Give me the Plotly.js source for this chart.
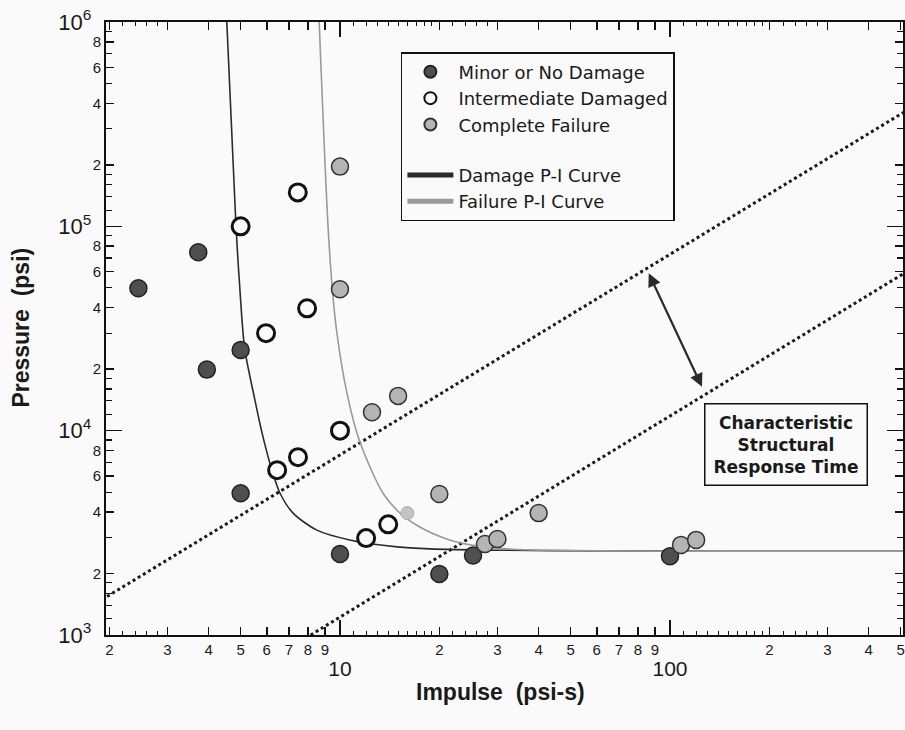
<!DOCTYPE html>
<html>
<head>
<meta charset="utf-8">
<script src="https://cdn.plot.ly/plotly-3.0.1.min.js"></script>
<style>
  html, body { margin: 0; padding: 0; background: #fafafa; }
  #chart { width: 905px; height: 730px; }
</style>
</head>
<body>
<div id="chart"></div>
<script>
// ---------------- data ----------------
const minorI = [2.45, 3.72, 3.95, 5, 5, 10, 20, 25.3, 100];
const minorP = [49800, 74700, 19900, 24800, 4940, 2490, 1990, 2450, 2430];

const interI = [5, 7.45, 7.95, 5.97, 10, 6.45, 7.46, 12, 14];
const interP = [100000, 146600, 39700, 30000, 10000, 6410, 7420, 2980, 3480];

const failI = [10, 10, 12.5, 15, 20, 40, 27.5, 30, 108, 120];
const failP = [196000, 49200, 12300, 14800, 4900, 3950, 2790, 2950, 2760, 2920];

const failFaintI = [16];
const failFaintP = [3950];

const damageCurveI = [4.54, 4.84, 5.04, 5.15, 5.52, 5.81, 6.22, 6.58, 7.21, 8.51, 10.7, 14.9, 18.7, 30, 60, 150, 520];
const damageCurveP = [1000000, 100000, 35900, 24800, 14200, 9700, 6400, 4940, 3950, 3260, 2920, 2700, 2640, 2600, 2580, 2570, 2570];

const failCurveI = [8.65, 9.20, 9.54, 9.79, 10.35, 11.26, 12.33, 13.5, 15.2, 17.5, 21.5, 25.3, 33.4, 61, 150, 520];
const failCurveP = [1000000, 100000, 43800, 30000, 17100, 9720, 6640, 4940, 3950, 3370, 2920, 2750, 2630, 2580, 2570, 2570];

const respLine1I = [1.9, 520];
const respLine1P = [1490, 368000];
const respLine2I = [8.15, 520];
const respLine2P = [1000, 59800];

const arrowI = [85.8, 125];
const arrowP = [59900, 16400];

const xDigits = [2, 3, 4, 5, 6, 7, 8, 9];
const xDecades = [1, 10, 100];
const xMajorVals = [10, 100];
const xMajorText = ['10', '100'];
const xMinorFrac = [1.1, 1.2, 1.3, 1.4, 1.5, 1.6, 1.7, 1.8, 1.9, 2.2, 2.4, 2.6, 2.8];

const yLabelDigits = [2, 4, 6, 8];
const yMinorDigits = [1.2, 1.4, 1.6, 1.8, 3, 5, 7, 9];
const yDecades = [1000, 10000, 100000];
const yMajorVals = [1000, 10000, 100000, 1000000];
const yMajorText = ['10<sup>3</sup>', '10<sup>4</sup>', '10<sup>5</sup>', '10<sup>6</sup>'];

const legendNames = ['Minor or No Damage', 'Intermediate Damaged', 'Complete Failure', 'Damage P-I Curve', 'Failure P-I Curve'];
const boxText = 'Characteristic<br>Structural<br>Response Time';
const xTitle = 'Impulse  (psi-s)';
const yTitle = 'Pressure  (psi)';

// ---------------- tick arrays ----------------
const xTickVals = [], xTickText = [];
xDecades.forEach(d => xDigits.forEach(k => {
  const v = d * k; if (v >= 2 && v <= 500) { xTickVals.push(v); xTickText.push(String(k)); }
}));
const xMinorVals = [];
xDecades.forEach(d => xMinorFrac.forEach(f => { const v = d * f; if (v > 2 && v < 500) xMinorVals.push(v); }));

const yTickVals = [], yTickText = [];
yDecades.forEach(d => yLabelDigits.forEach(k => { yTickVals.push(d * k); yTickText.push(String(k)); }));
const yMinorVals = [];
yDecades.forEach(d => yMinorDigits.forEach(f => yMinorVals.push(d * f)));
const yMajorTextPadded = yMajorText.map(t => t + '\u00A0\u00A0');

const XR = [0.291, 2.706];
const YR = [3, 6];
const FONT = 'Liberation Sans, Arial, sans-serif';

const traces = [
  { x: respLine1I, y: respLine1P, mode: 'lines', line: { color: '#1a1a1a', width: 3, dash: 'dot' }, showlegend: false, hoverinfo: 'skip' },
  { x: respLine2I, y: respLine2P, mode: 'lines', line: { color: '#1a1a1a', width: 3, dash: 'dot' }, showlegend: false, hoverinfo: 'skip' },
  { x: damageCurveI, y: damageCurveP, mode: 'lines', name: legendNames[3], legendgroup: 'curves', legendrank: 4,
    line: { color: '#2b2b2b', width: 1.6, shape: 'spline', smoothing: 0.8 } },
  { x: failCurveI, y: failCurveP, mode: 'lines', name: legendNames[4], legendgroup: 'curves', legendrank: 5,
    line: { color: '#9a9a9a', width: 1.6, shape: 'spline', smoothing: 0.8 } },
  { x: minorI, y: minorP, mode: 'markers', name: legendNames[0], legendgroup: 'pts', legendrank: 1,
    marker: { symbol: 'circle', size: 17, color: '#4f4f4f', line: { color: '#222', width: 1.5 } } },
  { x: interI, y: interP, mode: 'markers', name: legendNames[1], legendgroup: 'pts', legendrank: 2,
    marker: { symbol: 'circle', size: 17, color: '#fafafa', line: { color: '#111', width: 3 } } },
  { x: failFaintI, y: failFaintP, mode: 'markers', showlegend: false,
    marker: { symbol: 'circle', size: 13, color: '#c4c4c4', line: { color: '#aaa', width: 1 } } },
  { x: failI, y: failP, mode: 'markers', name: legendNames[2], legendgroup: 'pts', legendrank: 3,
    marker: { symbol: 'circle', size: 17, color: '#b4b4b4', line: { color: '#333', width: 1.5 } } },
  { x: [], y: [], xaxis: 'x2', yaxis: 'y', showlegend: false },
  { x: [], y: [], xaxis: 'x', yaxis: 'y2', showlegend: false }
];

const axisCommon = {
  type: 'log', showgrid: false, zeroline: false, showline: true, linecolor: '#111', linewidth: 2,
  ticks: 'inside', tickcolor: '#111', mirror: 'ticks', tickwidth: 1.5
};

const layout = {
  width: 905, height: 730,
  margin: { l: 106, r: 2, t: 22, b: 95 },
  paper_bgcolor: '#fafafa', plot_bgcolor: '#fafafa',
  font: { family: FONT, color: '#1a1a1a' },
  showlegend: true,
  legend: {
    x: 0.370, y: 0.951, xanchor: 'left', yanchor: 'top',
    bgcolor: '#fafafa', bordercolor: '#111', borderwidth: 1.5,
    font: { family: 'DejaVu Sans, sans-serif', size: 18, color: '#1a1a1a' },
    traceorder: 'grouped', tracegroupgap: 24, itemsizing: 'constant', itemwidth: 46
  },
  xaxis: Object.assign({}, axisCommon, {
    range: XR, domain: [0, 1], anchor: 'y',
    tickmode: 'array', tickvals: xTickVals, ticktext: xTickText, ticklen: 8,
    tickfont: { family: FONT, size: 15 },
    minor: { tickvals: xMinorVals, ticklen: 4, ticks: 'inside', tickcolor: '#111', tickwidth: 1 }
  }),
  xaxis2: Object.assign({}, axisCommon, {
    range: XR, overlaying: 'x', anchor: 'y', side: 'bottom',
    tickmode: 'array', tickvals: xMajorVals, ticktext: xMajorText, ticklen: 15,
    tickfont: { family: FONT, size: 21 }, ticklabelstandoff: 14
  }),
  yaxis: Object.assign({}, axisCommon, {
    range: YR, domain: [0, 1], anchor: 'x',
    tickmode: 'array', tickvals: yTickVals, ticktext: yTickText, ticklen: 8,
    tickfont: { family: FONT, size: 15 },
    minor: { tickvals: yMinorVals, ticklen: 6, ticks: 'inside', tickcolor: '#111', tickwidth: 1.2 }
  }),
  yaxis2: Object.assign({}, axisCommon, {
    range: YR, overlaying: 'y', anchor: 'x', side: 'left',
    tickmode: 'array', tickvals: yMajorVals, ticktext: yMajorTextPadded, ticklen: 16,
    tickfont: { family: FONT, size: 22 }, ticklabelstandoff: -4
  }),
  annotations: [
    { x: Math.log10(arrowI[1]), y: Math.log10(arrowP[1]), ax: Math.log10(arrowI[0]), ay: Math.log10(arrowP[0]),
      xref: 'x', yref: 'y', axref: 'x', ayref: 'y', text: '', showarrow: true,
      arrowhead: 2, startarrowhead: 2, arrowside: 'end+start', arrowsize: 1.2, startarrowsize: 1.2,
      arrowwidth: 2.2, arrowcolor: '#2a2a2a' },
    { x: 0.853, y: 0.310, xref: 'paper', yref: 'paper', xanchor: 'center', yanchor: 'middle',
      text: boxText, showarrow: false, align: 'center',
      font: { family: 'DejaVu Sans, sans-serif', size: 17, weight: 'bold', color: '#1a1a1a' },
      bgcolor: '#fafafa', bordercolor: '#111', borderwidth: 1.5, borderpad: 8 },
    { x: 0.495, y: -0.093, xref: 'paper', yref: 'paper', xanchor: 'center', yanchor: 'middle',
      text: xTitle, showarrow: false, font: { family: FONT, size: 23, weight: 'bold', color: '#1a1a1a' } },
    { x: -0.107, y: 0.501, xref: 'paper', yref: 'paper', xanchor: 'center', yanchor: 'middle', textangle: -90,
      text: yTitle, showarrow: false, font: { family: FONT, size: 23, weight: 'bold', color: '#1a1a1a' } }
  ]
};

Plotly.newPlot('chart', traces, layout, { displayModeBar: false, staticPlot: true });
</script>
</body>
</html>
